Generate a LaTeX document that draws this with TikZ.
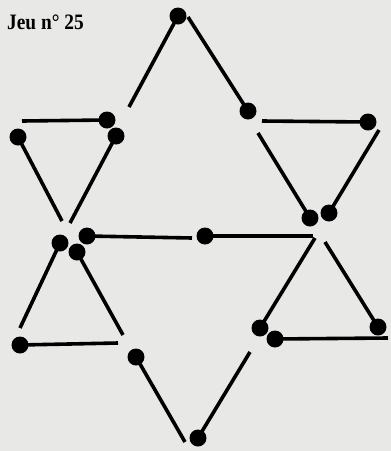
\documentclass[tikz,border=0pt]{standalone}
\usepackage{fontspec}
\setmainfont{Liberation Serif}
\usepackage{xcolor}
\usepackage{tikz}
\usetikzlibrary{positioning}
\definecolor{paper}{RGB}{232,233,230}

\begin{document}
\begin{tikzpicture}[x=1pt,y=-1pt,
  stick/.style={line width=3.6pt,line cap=butt},
  matchhead/.style={fill=black}]
  \fill[paper] (0,0) rectangle (391,451);
  \useasboundingbox (0,0) rectangle (391,451);
  \node[anchor=base west,inner sep=0pt,xscale=0.88,font=\bfseries\fontsize{22}{24}\selectfont] (title) at (7,29) {Jeu n° 25};
  % matches: head x/y, tail x/y
  \foreach \hx/\hy/\tx/\ty in {
    178/16/129/107, 248/111/188/17,
    107/120/22/121, 116/136/70/223, 18/137/62/221,
    368/122/262/121, 310/218/258/133, 329/213/379/130,
    87/236/192/238, 205/236/313/236,
    60/243/20/328, 77/252/123/335, 20/345/118/343,
    260/328/315/238, 378/327/325/242, 275/339/388/338,
    136/357/185/442, 198/438/250/352}
  {
    \draw[stick] (\hx,\hy) -- (\tx,\ty);
    \fill[matchhead] (\hx,\hy) circle (8.5);
  }
\end{tikzpicture}
\end{document}
